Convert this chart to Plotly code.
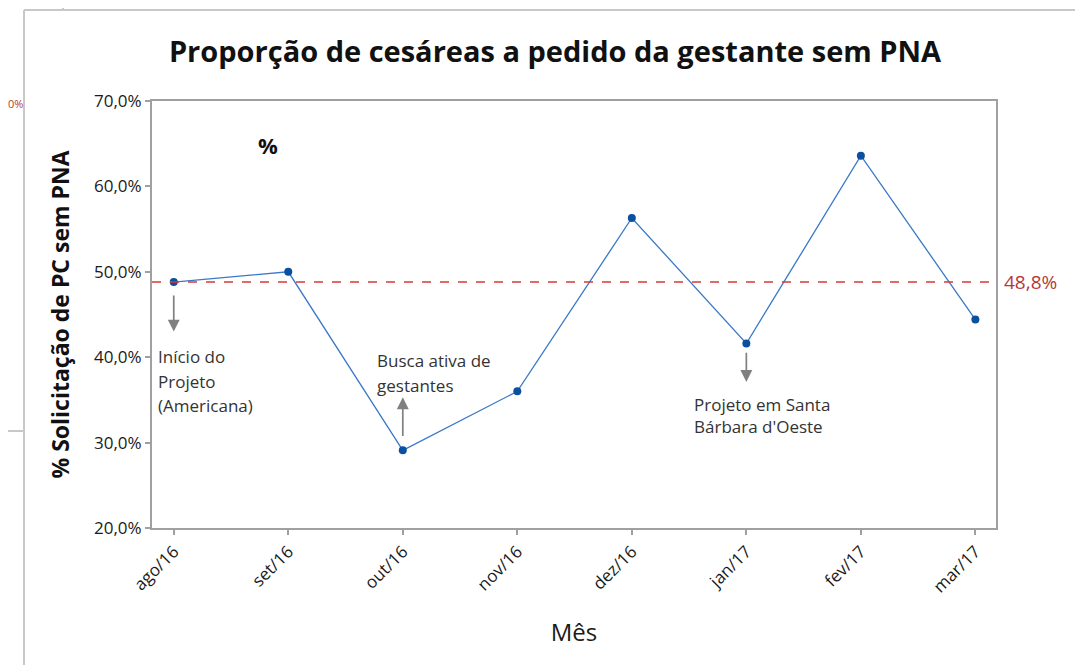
import plotly.graph_objects as go

months = ["ago/16", "set/16", "out/16", "nov/16", "dez/16", "jan/17", "fev/17", "mar/17"]
values = [48.8, 50.0, 29.1, 36.0, 56.3, 41.6, 63.6, 44.4]
mean_value = 48.8
ytick_vals = [20, 30, 40, 50, 60, 70]
ytick_text = ["20,0%", "30,0%", "40,0%", "50,0%", "60,0%", "70,0%"]

FONT = "Open Sans"
xidx = list(range(len(months)))

# page has an 8px body margin: figure occupies page x 8..1083, y 8..665
W, H = 1075, 657
PL, PR, PT, PB = 152, 996, 101, 528  # plot area in page pixels

fig = go.Figure()
fig.add_trace(go.Scatter(
    x=xidx, y=values, mode="lines+markers",
    line=dict(color="#3a78c8", width=1.3),
    marker=dict(color="#0a4fa0", size=8),
    showlegend=False, hoverinfo="skip"))

fig.add_shape(type="line", xref="paper", x0=0, x1=1, yref="y", y0=mean_value, y1=mean_value,
              line=dict(color="#d43a3a", width=1.6, dash="dash"))

def px_x(p):
    return (p - PL) / (PR - PL)

def px_y(p):
    return (PB - p) / (PB - PT)

ann = []
ann.append(dict(xref="paper", x=px_x(1002), yref="y", y=mean_value,
                text=f"{mean_value:.1f}%".replace(".", ","),
                showarrow=False, xanchor="left", yanchor="middle",
                font=dict(family=FONT, size=19, color="#b23a3a")))

# arrows (head at y, tail at ay) in data units
arrows = [(0, 43.0, 47.4), (2, 35.3, 30.6), (5, 37.1, 40.7)]
for xa, yh, yt in arrows:
    ann.append(dict(x=xa, y=yh, ax=xa, ay=yt, xref="x", yref="y", axref="x", ayref="y",
                    text="", showarrow=True, arrowhead=2, arrowsize=1.4, arrowwidth=1.7,
                    arrowcolor="#808080"))

notes = [
    (-0.155, [40.14, 37.21, 34.40], ["Início do", "Projeto", "(Americana)"]),
    (1.754, [39.56, 36.63], ["Busca ativa de", "gestantes"]),
    (4.521, [34.52, 31.83], ["Projeto em Santa", "Bárbara d'Oeste"]),
]
for xn, ys, lines in notes:
    for yy, t in zip(ys, lines):
        ann.append(dict(x=xn, y=yy, xref="x", yref="y", text=t, showarrow=False,
                        xanchor="left", yanchor="middle",
                        font=dict(family=FONT, size=17, color="#333333")))

ann.append(dict(xref="paper", yref="paper", x=px_x(268), y=px_y(145), text="<b>%</b>",
                showarrow=False, xanchor="center", yanchor="middle",
                font=dict(family=FONT, size=22, color="#111111")))
ann.append(dict(xref="paper", yref="paper", x=px_x(8), y=px_y(103), text="0%",
                showarrow=False, xanchor="left", yanchor="middle", xshift=-2,
                font=dict(family=FONT, size=11, color="#b23a3a")))

frame_col = "#c8c8c8"
for x0, y0, x1, y1 in [(24, 10, 1090, 10), (24, 10, 24, 670), (63, -5, 63, 10), (-5, 431, 24, 431)]:
    fig.add_shape(type="line", xref="paper", yref="paper", x0=px_x(x0), y0=px_y(y0), x1=px_x(x1), y1=px_y(y1),
                  line=dict(color=frame_col, width=2))

fig.update_layout(
    width=W, height=H,
    margin=dict(l=PL - 8, r=W - (PR - 8), t=PT - 8, b=H - (PB - 8)),
    paper_bgcolor="white", plot_bgcolor="white",
    title=dict(text="<b>Proporção de cesáreas a pedido da gestante sem PNA</b>",
               x=(555 - 8) / W, xanchor="center", y=1 - (52 - 8) / H, yanchor="middle",
               font=dict(family=FONT, size=29, color="#111111")),
    annotations=ann,
    xaxis=dict(range=[-0.19, 7.18], tickmode="array", tickvals=xidx, ticktext=months,
               tickangle=-45, showgrid=False, zeroline=False,
               showline=True, linecolor="#a0a0a0", linewidth=2, mirror=True,
               ticks="outside", ticklen=5, tickcolor="#a0a0a0", tickwidth=1.5,
               tickfont=dict(family=FONT, size=17, color="#1a1a1a"),
               title=dict(text="Mês", font=dict(family=FONT, size=24, color="#1a1a1a"), standoff=28)),
    yaxis=dict(range=[20, 70], tickmode="array", tickvals=ytick_vals, ticktext=ytick_text,
               showgrid=False, zeroline=False,
               showline=True, linecolor="#a0a0a0", linewidth=2, mirror=True,
               ticks="outside", ticklen=5, tickcolor="#a0a0a0", tickwidth=1.5,
               tickfont=dict(family=FONT, size=17, color="#1a1a1a"),
               title=dict(text="<b>% Solicitação de PC sem PNA</b>",
                          font=dict(family=FONT, size=23, color="#111111"), standoff=18)),
)

fig.write_html("out.html")
